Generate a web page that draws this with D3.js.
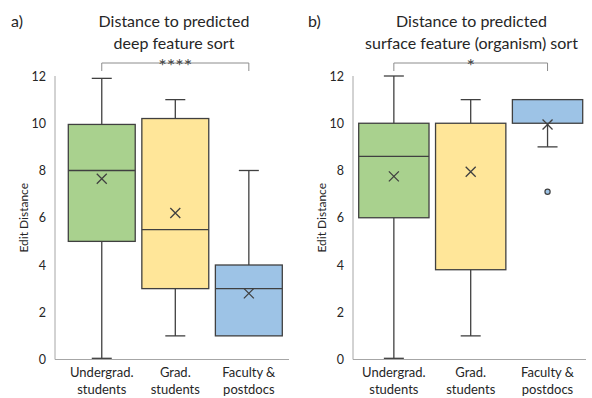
<!DOCTYPE html>
<meta charset="utf-8">
<head>
  <meta charset="utf-8">
  <title>edit distance box plots</title>
  <script src="https://d3js.org/d3.v7.min.js"></script>
</head>
<style>
body { margin: 0; background: #fff; }
text { font-family: Lato, "Open Sans", sans-serif; fill: #262626; }
.box { stroke: #404040; stroke-width: 1.3px; }
.whisker { stroke: #404040; stroke-width: 1.3px; }
.axisline { stroke: #a6a6a6; stroke-width: 1px; }
.bracket { fill: none; stroke: #8c8c8c; stroke-width: 1px; }
</style>
<body>
<script>

// categories (two-line tick labels)
var groups = ["Undergrad. students", "Grad. students", "Faculty & postdocs"];
var tickLines = [["Undergrad.", "students"], ["Grad.", "students"], ["Faculty &", "postdocs"]];
var colors = ["#a9d18e", "#ffe699", "#9dc3e6"];
var yTicks = [0, 2, 4, 6, 8, 10, 12];

// a) deep feature sort
var deepMin    = [0.05, 1, 1];
var deepQ1     = [5, 3, 1];
var deepMedian = [8, 5.5, 3];
var deepQ3     = [9.95, 10.2, 4];
var deepMax    = [11.9, 11, 8];
var deepMean   = [7.65, 6.2, 2.8];
var deepOut    = [[], [], []];

// b) surface feature sort
var surfMin    = [0.05, 1, 9];
var surfQ1     = [6, 3.8, 10];
var surfMedian = [8.6, 10, 10];
var surfQ3     = [10, 10, 11];
var surfMax    = [12, 11, 11];
var surfMean   = [7.75, 7.95, 9.95];
var surfOut    = [[], [], [7.1]];

var svg = d3.select("body").append("svg")
    .attr("width", 592)
    .attr("height", 398);

function panel(ox, axisX, axisEnd, boxStart, boxEnd, pad, letter, title, stars, s) {
  var g = svg.append("g").attr("transform", "translate(" + ox + ",0)");

  var y = d3.scaleLinear().domain([0, 12]).range([359.5, 76]);
  var x = d3.scaleBand().domain(groups).range([boxStart, boxEnd]).paddingInner(pad).paddingOuter(0);

  // axes lines (no tick marks)
  g.append("line").attr("class", "axisline")
    .attr("x1", axisX).attr("x2", axisX).attr("y1", y(12)).attr("y2", y(0));
  g.append("line").attr("class", "axisline")
    .attr("x1", axisX).attr("x2", axisEnd).attr("y1", y(0)).attr("y2", y(0));

  g.selectAll(".ytick").data(yTicks).enter().append("text")
    .attr("x", axisX - 9)
    .attr("y", function(d) { return y(d) + 4.5; })
    .attr("text-anchor", "end")
    .style("font-size", "12.5px")
    .text(function(d) { return d; });

  g.append("text")
    .attr("transform", "translate(" + (axisX - 27) + "," + y(6) + ") rotate(-90)")
    .attr("text-anchor", "middle")
    .style("font-size", "12px")
    .text("Edit Distance");

  tickLines.forEach(function(lines, i) {
    var t = g.append("text")
      .attr("x", x(groups[i]) + x.bandwidth() / 2)
      .attr("y", 377)
      .attr("text-anchor", "middle")
      .style("font-size", "13px");
    lines.forEach(function(l, j) {
      t.append("tspan").attr("x", x(groups[i]) + x.bandwidth() / 2)
        .attr("dy", j === 0 ? 0 : 17).text(l);
    });
  });

  var cap = 10;
  groups.forEach(function(grp, i) {
    var cx = x(grp) + x.bandwidth() / 2;
    var bg = g.append("g");
    // whiskers
    if (s.max[i] > s.q3[i]) {
      bg.append("line").attr("class", "whisker").attr("x1", cx).attr("x2", cx).attr("y1", y(s.q3[i])).attr("y2", y(s.max[i]));
      bg.append("line").attr("class", "whisker").attr("x1", cx - cap).attr("x2", cx + cap).attr("y1", y(s.max[i])).attr("y2", y(s.max[i]));
    }
    if (s.min[i] < s.q1[i]) {
      bg.append("line").attr("class", "whisker").attr("x1", cx).attr("x2", cx).attr("y1", y(s.q1[i])).attr("y2", y(s.min[i]));
      bg.append("line").attr("class", "whisker").attr("x1", cx - cap).attr("x2", cx + cap).attr("y1", y(s.min[i])).attr("y2", y(s.min[i]));
    }
    bg.append("rect").attr("class", "box")
      .attr("x", x(grp)).attr("width", x.bandwidth())
      .attr("y", y(s.q3[i])).attr("height", y(s.q1[i]) - y(s.q3[i]))
      .attr("fill", colors[i]);
    if (s.median[i] < s.q3[i] && s.median[i] > s.q1[i]) {
      bg.append("line").attr("class", "whisker")
        .attr("x1", x(grp)).attr("x2", x(grp) + x.bandwidth())
        .attr("y1", y(s.median[i])).attr("y2", y(s.median[i]));
    }
    // mean marker
    var m = y(s.mean[i]), r = 5;
    bg.append("path").attr("class", "whisker")
      .attr("d", "M" + (cx - r) + "," + (m - r) + "L" + (cx + r) + "," + (m + r) +
                 "M" + (cx - r) + "," + (m + r) + "L" + (cx + r) + "," + (m - r));
    s.out[i].forEach(function(v) {
      bg.append("circle").attr("cx", cx).attr("cy", y(v)).attr("r", 2.6)
        .attr("fill", colors[i]).attr("stroke", "#404040").attr("stroke-width", 1.2);
    });
  });

  // significance bracket
  var bx1 = x(groups[0]) + x.bandwidth() / 2, bx2 = x(groups[2]) + x.bandwidth() / 2;
  g.append("path").attr("class", "bracket")
    .attr("d", "M" + bx1 + ",71V63H" + bx2 + "V71");
  g.append("text")
    .attr("x", (bx1 + bx2) / 2).attr("y", 73)
    .attr("text-anchor", "middle")
    .style("font-size", "20px").style("fill", "#444")
    .text(stars);

  g.append("text").attr("x", 11).attr("y", 27)
    .style("font-size", "16px").text(letter);
  title.forEach(function(l, j) {
    g.append("text").attr("x", (axisX + axisEnd) / 2 + 2).attr("y", 27 + j * 22)
      .attr("text-anchor", "middle").style("font-size", "16px").text(l);
  });
}

panel(0, 55, 289, 68.3, 282.3, 0.09, "a)", ["Distance to predicted", "deep feature sort"], "****",
  {min: deepMin, q1: deepQ1, median: deepMedian, q3: deepQ3, max: deepMax, mean: deepMean, out: deepOut});
panel(297, 56, 289, 61.7, 285.7, 0.085, "b)", ["Distance to predicted", "surface feature (organism) sort"], "*",
  {min: surfMin, q1: surfQ1, median: surfMedian, q3: surfQ3, max: surfMax, mean: surfMean, out: surfOut});

</script>
</body>
